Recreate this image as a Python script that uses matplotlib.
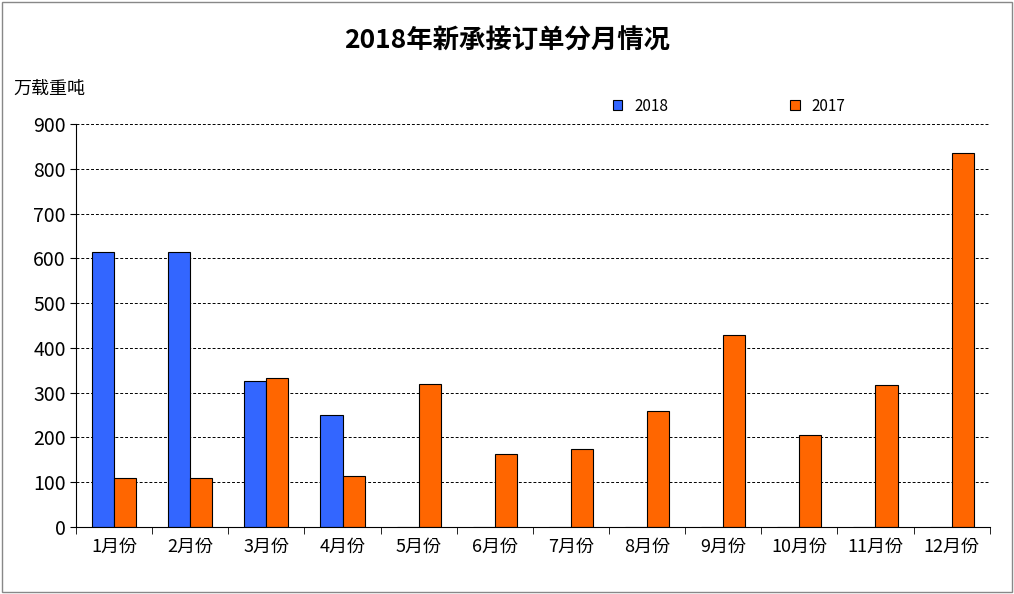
import matplotlib
matplotlib.use("Agg")
import matplotlib.pyplot as plt
from matplotlib import font_manager as fm
from matplotlib.patches import Rectangle
import numpy as np

names = sorted({f.name for f in fm.fontManager.ttflist})
cjk = [n for n in names if "CJK" in n]
plt.rcParams["font.family"] = (["Noto Sans CJK SC"] if "Noto Sans CJK SC" in names else cjk[:1]) + ["DejaVu Sans"]

months = ["1月份","2月份","3月份","4月份","5月份","6月份","7月份","8月份","9月份","10月份","11月份","12月份"]
v2018 = [615, 615, 325, 250, 0, 0, 0, 0, 0, 0, 0, 0]
v2017 = [110, 110, 332, 113, 320, 163, 173, 260, 428, 205, 318, 835]
yticks = [0, 100, 200, 300, 400, 500, 600, 700, 800, 900]

fig = plt.figure(figsize=(10.14, 5.94), dpi=100)
fig.patches.append(Rectangle((0.002, 0.003), 0.996, 0.994, transform=fig.transFigure,
                             fill=False, edgecolor="#888888", lw=1))
ax = fig.add_axes([0.075, 0.113, 0.901, 0.678])
x = np.arange(len(months))
w = 0.29
ax.bar(x - w/2, v2018, w, color="#3366FF", edgecolor="black", lw=0.8, label="2018")
ax.bar(x + w/2, v2017, w, color="#FF6600", edgecolor="black", lw=0.8, label="2017")
ax.set_xlim(-0.5, 11.5)
ax.set_ylim(0, 900)
ax.set_yticks(yticks)
ax.set_yticklabels([str(t) for t in yticks], fontsize=14)
ax.set_xticks(x)
ax.set_xticklabels(months, fontsize=13)
ax.set_xticks(np.arange(-0.5, 12, 1), minor=True)
ax.tick_params(axis="x", which="major", length=0, pad=8)
ax.tick_params(axis="x", which="minor", length=5, direction="out")
ax.tick_params(axis="y", length=4, direction="out")
ax.yaxis.grid(True, linestyle=(0, (3, 2)), color="black", lw=0.7)
ax.set_axisbelow(True)
for s in ["top", "right"]:
    ax.spines[s].set_visible(False)
fig.text(0.5, 0.93, "2018年新承接订单分月情况", ha="center", va="center",
         fontsize=19, fontweight="bold")
fig.text(0.013, 0.85, "万载重吨", fontsize=13, va="center")
ax.legend(loc="upper center", bbox_to_anchor=(0.715, 1.1), ncol=2, frameon=False,
          fontsize=11, handlelength=0.6, handleheight=0.6, columnspacing=8)
fig.savefig("out.png", dpi=100)
